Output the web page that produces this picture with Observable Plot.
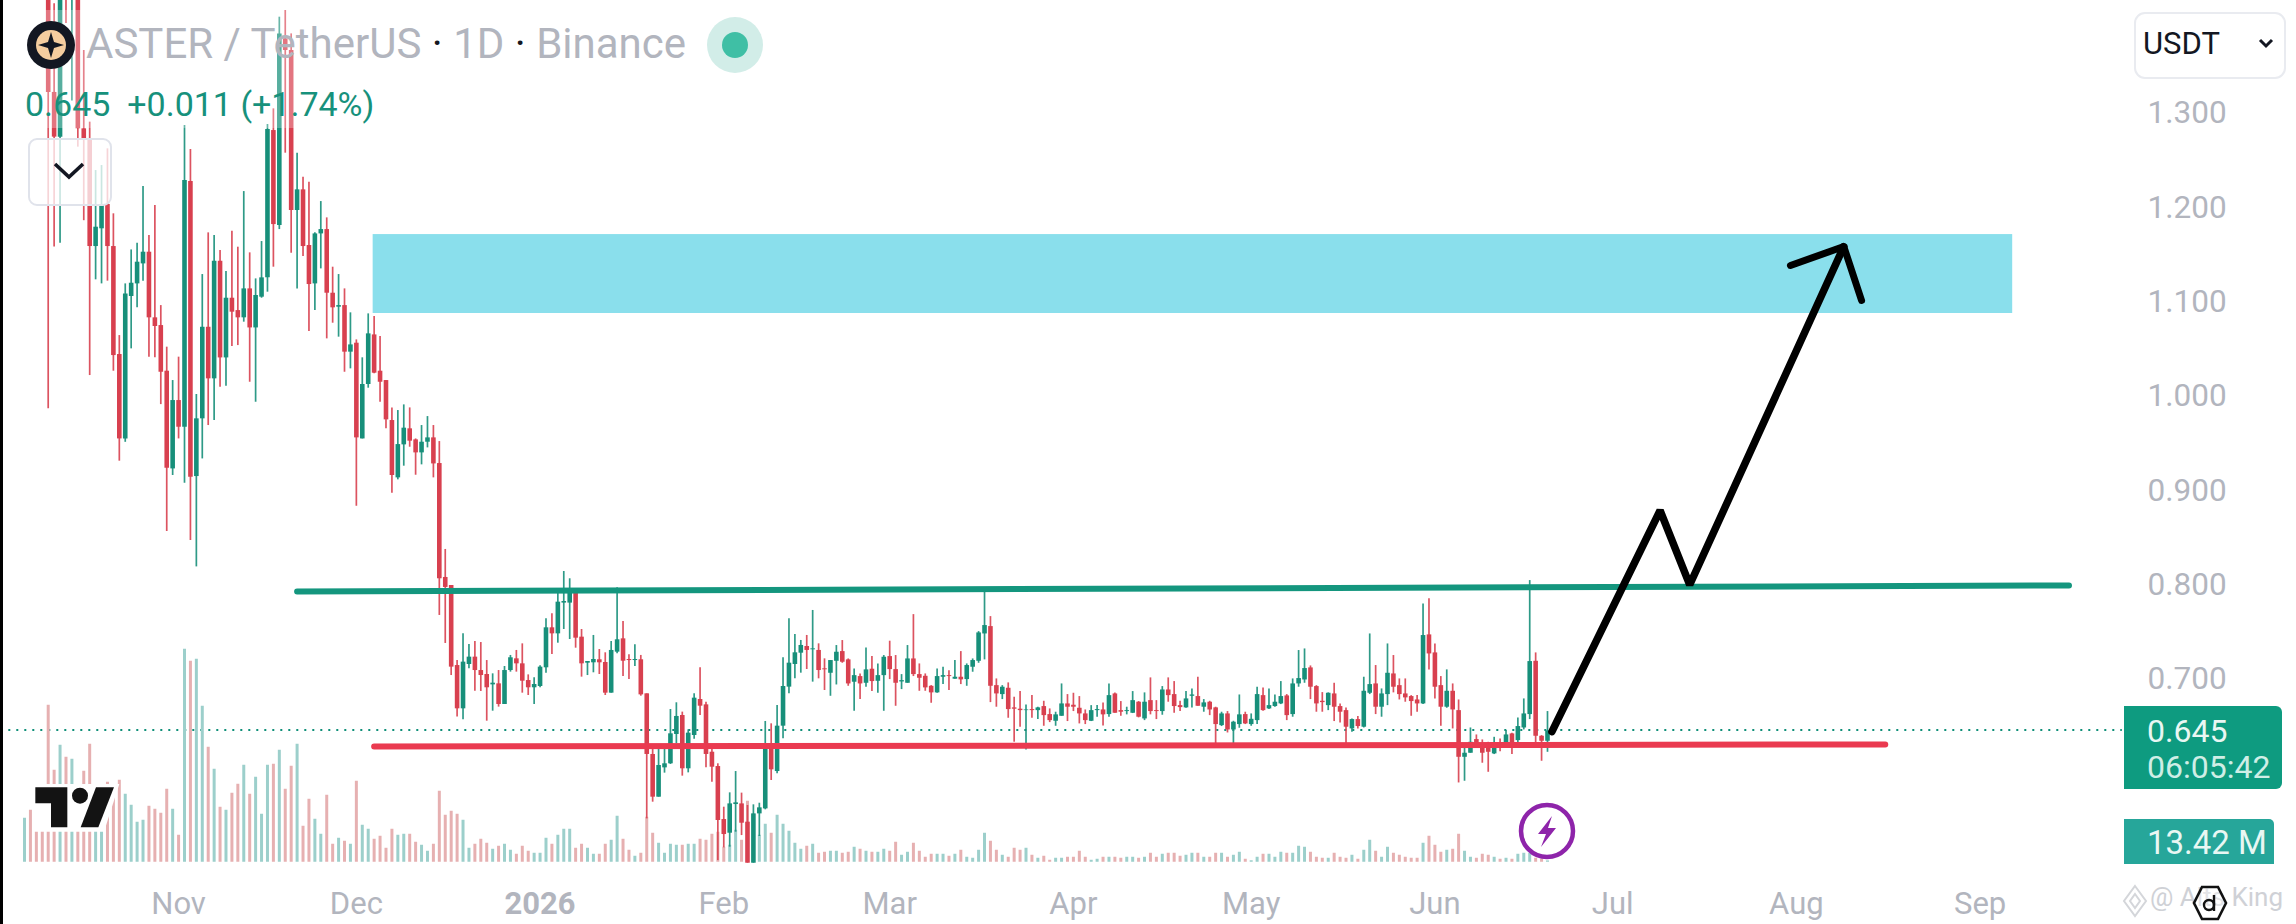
<!DOCTYPE html>
<html><head><meta charset="utf-8">
<script src="https://cdn.jsdelivr.net/npm/d3@7"></script>
<script src="https://cdn.jsdelivr.net/npm/@observablehq/plot@0.6"></script>
<style>
html,body{margin:0;padding:0;background:#fff;width:2296px;height:924px;overflow:hidden;font-family:Roboto,sans-serif}
#chart{position:absolute;left:0;top:0}
.o{position:absolute;white-space:pre;line-height:1}
</style></head><body>
<div id="chart"></div>
<div class="o" style="left:0;top:0;width:3px;height:924px;background:#000"></div>
<div class="o" style="left:20px;top:10px;width:500px;height:118px;background:rgba(255,255,255,.28)"></div>
<svg class="o" style="left:27px;top:21px" width="48" height="48" viewBox="-24 -24 48 48"><circle r="24" fill="#131722"/><circle r="15" fill="#f5cd9f"/><path d="M0-13 3-3 13 0 3 3 0 13-3 3-13 0-3-3Z" fill="#131722"/></svg>
<div class="o" id="title" style="left:86px;top:23px;font-size:42px;color:#b2b5be">ASTER / TetherUS <span style="color:#131722">·</span> 1D <span style="color:#131722">·</span> Binance</div>
<svg class="o" style="left:707px;top:17px" width="56" height="56" viewBox="-28 -28 56 56"><circle r="28" fill="#d2ede8"/><circle r="13" fill="#3fbfa5"/></svg>
<div class="o" id="sub" style="left:25px;top:87px;font-size:34px;color:#17917c">0.645  +0.011 (+1.74%)</div>
<div class="o" style="left:28px;top:138px;width:80px;height:64px;border:2px solid #e0e3eb;border-radius:9px;background:rgba(255,255,255,.75)"></div>
<svg class="o" style="left:52px;top:160px" width="34" height="22" viewBox="0 0 34 22"><path d="M3 4 17 17 31 4" fill="none" stroke="#131722" stroke-width="3.6"/></svg>
<div class="o" style="left:2134px;top:12px;width:148px;height:63px;border:2px solid #e9ebf0;border-radius:11px"></div>
<div class="o" style="left:2143px;top:28px;font-size:31px;color:#131722">USDT</div>
<svg class="o" style="left:2258px;top:37px" width="16" height="12" viewBox="0 0 16 12"><path d="M2 3 8 9 14 3" fill="none" stroke="#131722" stroke-width="3"/></svg>
<div class="o" style="left:2124px;top:706px;width:158px;height:83px;background:#0e9b80;border-radius:0 6px 6px 0"></div>
<div class="o" style="left:2147px;top:715px;font-size:32px;color:#e9f7f3">0.645</div>
<div class="o" style="left:2147px;top:751px;font-size:32px;color:#cfeee6">06:05:42</div>
<div class="o" style="left:2124px;top:819px;width:150px;height:45px;background:#26a69a;border-radius:0 5px 0 0"></div>
<div class="o" style="left:2147px;top:826px;font-size:33px;color:#e9f7f3">13.42 M</div>
<svg class="o" style="left:20px;top:640px" width="300" height="200" viewBox="0 0 900 600"><path d="M40 432 298 432 252 575 40 575Z" fill="#fff"/><path d="M46 442 142 442 142 562 93 562 93 490 46 490Z" fill="#131313"/><circle cx="180" cy="467" r="24" fill="#131313"/><path d="M228 442 282 442 235 562 182 562Z" fill="#131313"/></svg>
<svg class="o" style="left:1518px;top:802px" width="58" height="58" viewBox="-29 -29 58 58"><circle r="26" fill="rgba(255,255,255,.7)" stroke="#8e24aa" stroke-width="4.5"/><path d="M5-15-9 3-1 3-6 16 9-3 1-3Z" fill="#8e24aa"/></svg>
<div class="o" id="wm" style="left:2150px;top:884px;font-size:26px;color:#cfd1d6">@ Alts King</div>
<svg class="o" style="left:2122px;top:884px" width="26" height="34" viewBox="0 0 26 34"><path d="M13 2 24 17 13 32 2 17Z M13 10 18 17 13 24 8 17Z" fill="none" stroke="#d4d6da" stroke-width="2"/></svg>
<svg class="o" style="left:2192px;top:885px" width="36" height="36" viewBox="0 0 36 36"><path d="M10 2 26 2 34 18 26 34 10 34 2 18Z" fill="rgba(255,255,255,.4)" stroke="#111" stroke-width="2.6"/><circle cx="17" cy="20" r="5" fill="none" stroke="#111" stroke-width="2.4"/><path d="M22 10 22 26" stroke="#111" stroke-width="2.4"/></svg>
<script>
const startDay = "2025-10-06";
const opens = [1.52,1.58,1.54,1.50,1.46,1.322,1.2746,1.46,1.43,1.47,
1.2834,1.2728,1.1586,1.1774,1.2032,1.1586,1.0441,.9546,1.1056,1.119,
1.1402,1.1526,1.083,1.0748,1.0264,.9228,.9953,.967,1.2276,.9147,
.9759,1.073,1.0183,1.143,1.0405,1.1038,1.0907,1.083,1.1137,1.0723,
1.1049,1.1254,1.2816,1.1809,1.3788,1.3665,1.1968,1.2187,1.1597,1.119,
1.172,1.1766,1.1091,1.0943,1.096,1.0466,1.0561,.9546,1.0123,1.0649,
1.0264,1.0165,.9741,.9133,.9483,.9653,.9536,.9398,.9511,.9557,
.9285,.8077,.7992,.7143,.6684,.7154,.7232,.709,.7048,.6938,
.6949,.673,.709,.7214,.7161,.6984,.6907,.6921,.7119,.7543,
.7479,.7805,.7805,.7914,.7444,.7168,.7172,.7204,.7175,.685,
.7285,.7426,.7207,.7196,.7204,.6843,.62,.5747,.6058,.6101,
.6412,.6613,.6048,.6401,.6783,.6726,.6224,.6072,.551,.5365,
.5669,.5676,.5482,.5047,.557,.5623,.6277,.6019,.65,.6914,
.7154,.7274,.7345,.731,.7303,.7108,.7061,.7188,.7291,.7203,
.6966,.7026,.6955,.7104,.6976,.7036,.7238,.71,.6969,.6955,
.7213,.7047,.7029,.6923,.6853,.7019,.7036,.6998,.7019,.6994,
.7125,.7188,.7478,.7556,.693,.6835,.6902,.6694,.668,.6665,
.6676,.6665,.6708,.6623,.6552,.6605,.6736,.6722,.669,.663,
.6552,.6665,.6672,.6623,.6842,.6665,.6655,.6637,.6754,.6577,
.6771,.6665,.6655,.6884,.6835,.6718,.6694,.6817,.6814,.6701,
.6754,.6694,.6506,.663,.646,.6517,.6623,.6517,.6559,.6824,
.6683,.6708,.6736,.6821,.6623,.6948,.699,.7118,.692,.6764,
.6718,.6842,.6708,.6665,.6471,.657,.6489,.6849,.6948,.6701,
.6835,.7054,.693,.6842,.6814,.6778,.6736,.7468,.7277,.693,
.6701,.687,.6665,.617,.6213,.6358,.6312,.6319,.6206,.6319,
.6294,.6418,.6347,.6481,.6623,.7188,.6393,.634];
const closes = [1.58,1.54,1.50,1.46,1.322,1.2746,1.44,1.43,1.47,1.2834,
1.2728,1.1586,1.1791,1.2032,1.1586,1.043,.9546,1.1084,1.1197,1.142,
1.1526,1.083,1.0738,1.0253,.9235,.9953,.967,1.2286,.914,.9759,
1.073,1.0183,1.143,1.0405,1.1038,1.089,1.083,1.1137,1.0723,1.1067,
1.1254,1.2827,1.1819,1.3841,1.3665,1.1968,1.2187,1.1586,1.1183,1.172,
1.1766,1.1091,1.0936,1.096,1.0466,1.0543,.9557,1.0123,1.066,1.0243,
1.0147,.9748,.9158,.9486,.966,.9522,.9398,.9511,.9557,.9281,
.8063,.7971,.7126,.6684,.7179,.7232,.709,.7037,.6907,.6956,
.673,.709,.7225,.7161,.6977,.6907,.6942,.7126,.7543,.7479,
.7815,.7822,.7914,.7433,.7161,.7186,.7207,.7172,.685,.7303,
.7416,.7189,.7196,.7207,.6832,.62,.5747,.6083,.6101,.6419,
.6603,.6048,.6426,.6797,.6712,.62,.6065,.55,.5351,.5676,
.5687,.5471,.5047,.557,.5634,.6284,.6037,.65,.6921,.7168,
.7278,.7356,.7303,.732,.709,.7098,.7196,.7284,.7178,.6948,
.7036,.6948,.7097,.6973,.7036,.7231,.71,.6955,.6983,.7213,
.7047,.7008,.6906,.6853,.7026,.7036,.7026,.7019,.6991,.7143,
.7196,.7489,.7567,.6923,.6842,.6913,.6676,.668,.6665,.6672,
.6665,.6694,.6612,.6559,.662,.6736,.6701,.6701,.663,.6559,
.6665,.6676,.662,.6824,.6637,.6648,.6665,.6771,.6595,.6754,
.6655,.6655,.6884,.6824,.6708,.6697,.6789,.6831,.6711,.6747,
.6672,.6517,.663,.646,.6542,.662,.6524,.6573,.6835,.6665,
.6718,.6754,.6814,.6612,.6948,.7005,.7111,.6913,.6736,.675,
.6849,.6701,.6648,.6489,.657,.6496,.687,.6941,.6701,.6842,
.7061,.6913,.6835,.68,.6761,.6736,.7461,.7266,.6913,.6701,
.687,.6672,.617,.6213,.6329,.6319,.6213,.6223,.6312,.6276,
.6407,.6312,.6496,.663,.7185,.6393,.634,.645];
const highs = [1.62,1.66,1.60,1.56,1.52,1.416,1.46,1.48,1.49,1.49,
1.3665,1.2905,1.2392,1.2445,1.2622,1.1933,1.0642,1.119,1.155,1.1622,
1.2222,1.1703,1.2021,1.096,1.0519,1.0165,1.0413,1.2869,1.2615,1.0017,
1.1289,1.1731,1.1703,1.1544,1.1321,1.1749,1.1579,1.2169,1.1519,1.1243,
1.1639,1.288,1.3046,1.4018,1.4089,1.3841,1.2576,1.2321,1.2268,1.1731,
1.2063,1.189,1.1367,1.1289,1.1137,1.0883,1.0596,1.0406,1.0872,1.0844,
1.0632,1.0165,.9875,.9847,.9907,.9875,.9546,.9688,.9783,.9688,
.9518,.8374,.7992,.7196,.7479,.7366,.7398,.7387,.7196,.7055,
.709,.7133,.725,.7303,.7373,.7044,.7013,.714,.7638,.7691,
.7914,.814,.8063,.7921,.7525,.7186,.7462,.7313,.7278,.7398,
.7967,.761,.7257,.7363,.725,.6843,.6253,.6253,.6277,.6677,
.6748,.6649,.6461,.6843,.7119,.6755,.626,.6101,.5641,.5793,
.6019,.579,.5659,.5666,.5683,.655,.6525,.6719,.7225,.7638,
.7472,.7409,.7462,.7727,.7373,.7214,.7196,.7355,.7408,.7213,
.7107,.7054,.733,.7238,.716,.7249,.7401,.7249,.7047,.7355,
.7683,.716,.7054,.693,.7107,.7125,.7089,.7196,.7291,.716,
.7213,.7503,.792,.7662,.7001,.693,.6959,.6807,.6867,.6725,
.6824,.6701,.6764,.6683,.6648,.6948,.6835,.6849,.6814,.6672,
.6718,.6718,.6747,.6948,.6853,.6761,.6701,.6867,.6761,.6853,
.7012,.6771,.692,.7012,.6973,.6764,.6867,.6895,.7019,.6782,
.6764,.6701,.6648,.6655,.6552,.6831,.6648,.663,.6913,.6906,
.6895,.6831,.6973,.6835,.7001,.7302,.7319,.7139,.693,.6856,
.6853,.6955,.6736,.6694,.6577,.6602,.7019,.7478,.7143,.6895,
.7372,.7249,.7001,.7001,.6824,.6824,.7796,.785,.7372,.7026,
.7097,.6948,.6778,.6312,.6481,.6407,.6354,.6329,.6382,.6365,
.6453,.6425,.6588,.6789,.8044,.7277,.64,.6655];
const lows = [1.49,1.50,1.47,1.44,.9865,1.158,1.162,1.395,1.313,1.264,
1.186,1.0218,1.1233,1.119,1.1219,1.0264,.931,.951,1.0501,1.0936,
1.1219,1.0413,1.0406,.991,.8564,.9158,.9546,.9076,.8468,.8189,
.9334,.9688,.9741,1.0094,1.0105,1.0526,1.0536,1.0784,1.0147,.9935,
1.1038,1.1102,1.1367,1.1766,1.2576,1.1515,1.1137,1.148,1.0685,1.0907,
1.1349,1.0607,1.0773,1.0625,1.0253,1.0289,.8832,.9546,1.0084,1.0236,
.9935,.9653,.897,.9112,.9257,.9458,.9161,.9271,.9451,.9133,
.7674,.7377,.7037,.6596,.6567,.7108,.6871,.6868,.6553,.6659,
.6702,.673,.7073,.7073,.685,.6825,.673,.6907,.7062,.726,
.738,.7525,.7419,.7327,.702,.7037,.7066,.7048,.6825,.685,
.7267,.7027,.6995,.7133,.6818,.5517,.5694,.5747,.6002,.6094,
.6313,.597,.6005,.6362,.6613,.6058,.5906,.5075,.521,.5217,
.5376,.534,.5047,.5047,.533,.5613,.5924,.5995,.6366,.6843,
.7002,.7062,.7101,.6967,.7002,.6878,.6817,.6937,.7167,.6923,
.6658,.6782,.6913,.6867,.6849,.6658,.6994,.6711,.6888,.6955,
.7026,.687,.687,.6743,.6849,.6941,.6877,.6998,.6941,.6923,
.7072,.7167,.7203,.675,.6701,.6782,.6584,.633,.6489,.6248,
.6584,.657,.6499,.6538,.6499,.6605,.6549,.6655,.6524,.6517,
.6549,.6595,.6503,.6595,.6637,.6605,.662,.6634,.6588,.6559,
.662,.657,.6616,.6754,.6637,.6655,.669,.6694,.6711,.6648,
.6612,.6312,.6496,.6428,.6276,.6478,.6517,.6499,.6517,.6658,
.6676,.6701,.6729,.6559,.6595,.6913,.6955,.6782,.6648,.6648,
.6665,.6549,.6534,.6312,.6436,.6471,.6481,.6835,.6623,.6595,
.6718,.6853,.6778,.6754,.6605,.6648,.6729,.7097,.6789,.6499,
.669,.6471,.5898,.5916,.6213,.6312,.6107,.6011,.6199,.623,
.6287,.6199,.6305,.646,.657,.6319,.6128,.6223];
const volumes = [440,520,450,530,1570,920,1170,1050,1030,550,
910,1180,550,550,800,650,820,680,570,400,
420,560,530,490,730,530,270,2130,2010,2030,
1560,1150,930,550,520,690,780,970,680,850,
480,970,980,1120,730,960,1180,360,630,430,
280,670,180,240,210,180,810,370,330,230,
260,140,330,270,280,280,200,170,110,180,
710,470,510,480,420,140,180,230,190,130,
160,180,120,80,160,110,90,90,240,180,
270,330,330,140,180,140,80,80,180,220,
460,230,120,60,90,450,290,190,90,180,
170,170,180,180,230,220,280,300,150,170,
320,220,610,480,270,380,290,470,380,310,
190,130,160,180,90,100,110,110,90,100,
150,130,110,100,100,130,110,200,70,100,
190,110,50,80,80,80,60,80,120,50,
40,120,290,210,120,70,50,140,120,140,
70,40,60,20,40,40,50,50,110,50,
20,30,50,50,50,40,50,50,40,50,
90,50,80,90,90,60,70,90,90,50,
50,90,90,50,70,100,30,15,50,80,
80,50,100,90,90,160,150,100,50,40,
40,90,50,40,70,30,120,220,110,50,
150,90,70,50,40,40,190,260,170,100,
120,130,280,110,50,40,80,70,50,30,
40,30,80,90,90,40,30,13.42];
const monthTicks = ["2025-11-01","2025-12-01","2026-02-01","2026-03-01","2026-04-01","2026-05-01","2026-06-01","2026-07-01","2026-08-01","2026-09-01"];
const monthLabels = ["Nov","Dec","Feb","Mar","Apr","May","Jun","Jul","Aug","Sep"];
const yearTicks = ["2026-01-01"];
const yearLabels = ["2026"];
const priceTicks = [1.3,1.2,1.1,1.0,0.9,0.8,0.7];
const lastPrice = 0.646;
const zone = {x1:"2025-12-03T20:00:00Z",x2:"2026-09-06T12:00:00Z",y1:1.0876,y2:1.1713};
const greenLine = [["2025-11-21",0.7928],["2026-09-16",0.7992]];
const redLine = [["2025-12-04",0.6284],["2026-08-16",0.6306]];
const arrowPath = [["2026-06-20T18:00:00Z",0.6443],["2026-07-09",0.8787],["2026-07-14",0.7999],["2026-08-09",1.1586]];
const arrowHead = [["2026-07-31",1.1385],["2026-08-09",1.1586],["2026-08-12",1.1014]];

const D = s => new Date(s.length > 10 ? s : s + "T00:00:00Z");
const start = D(startDay);
const rows = opens.map((o,i)=>({date:d3.utcDay.offset(start,i),open:o,close:closes[i],high:highs[i],low:lows[i],volume:volumes[i],up:closes[i]>=o}));
const GREEN="#178f7a", RED="#d8404f";
const VOL_BASE=0.5057, VOL_PER_PRICE=9430;
const pts = a => a.map(([d,v])=>({date:D(d),v}));

const chart = Plot.plot({
  width:2296,height:924,
  marginTop:0,marginLeft:0,marginRight:149,marginBottom:33,
  style:{fontFamily:"Roboto,sans-serif",background:"transparent",overflow:"visible"},
  x:{type:"utc",domain:[start,D("2026-09-01")],range:[24,1979.6]},
  y:{type:"linear",domain:[0.4397,1.4195],range:[924,0]},
  marks:[
    Plot.rect([zone],{x1:d=>D(d.x1),x2:d=>D(d.x2),y1:"y1",y2:"y2",fill:"#8adfec"}),
    Plot.ruleY([lastPrice],{x1:D("2025-10-02"),x2:D("2026-09-25"),stroke:"#0e8f78",strokeWidth:2,strokeDasharray:"2 6"}),
    Plot.ruleX(rows,{x:"date",y1:()=>VOL_BASE,y2:d=>VOL_BASE+d.volume/VOL_PER_PRICE,stroke:d=>d.up?"#9ccfcb":"#e6b0b1",strokeWidth:3}),
    Plot.ruleX(rows,{x:"date",y1:"low",y2:"high",stroke:d=>d.up?GREEN:RED,strokeWidth:1.7,strokeOpacity:.9}),
    Plot.ruleX(rows,{x:"date",y1:"open",y2:"close",stroke:d=>d.up?GREEN:RED,strokeWidth:4.6}),
    Plot.line(pts(greenLine),{x:"date",y:"v",stroke:"#14967e",strokeWidth:6,strokeLinecap:"round"}),
    Plot.line(pts(redLine),{x:"date",y:"v",stroke:"#ea3a50",strokeWidth:6,strokeLinecap:"round"}),
    Plot.line(pts(arrowPath),{x:"date",y:"v",stroke:"#000",strokeWidth:7.5,strokeLinecap:"round",strokeLinejoin:"miter"}),
    Plot.line(pts(arrowHead),{x:"date",y:"v",stroke:"#000",strokeWidth:7,strokeLinecap:"round",strokeLinejoin:"miter"}),
    Plot.axisX({ticks:monthTicks.map(D),tickFormat:d=>monthLabels[monthTicks.indexOf(d.toISOString().slice(0,10))],tickSize:0,tickPadding:0,fontSize:31,fill:"#b2b5be",label:null}),
    Plot.axisX({ticks:yearTicks.map(D),tickFormat:d=>yearLabels[0],tickSize:0,tickPadding:0,fontSize:31,fontWeight:"bold",fill:"#b2b5be",label:null}),
    Plot.axisY({anchor:"right",ticks:priceTicks,tickFormat:d3.format(".3f"),tickSize:0,tickPadding:0,fontSize:31.5,fill:"#b2b5be",label:null})
  ]
});
document.getElementById("chart").appendChild(chart);
</script>
</body></html>
